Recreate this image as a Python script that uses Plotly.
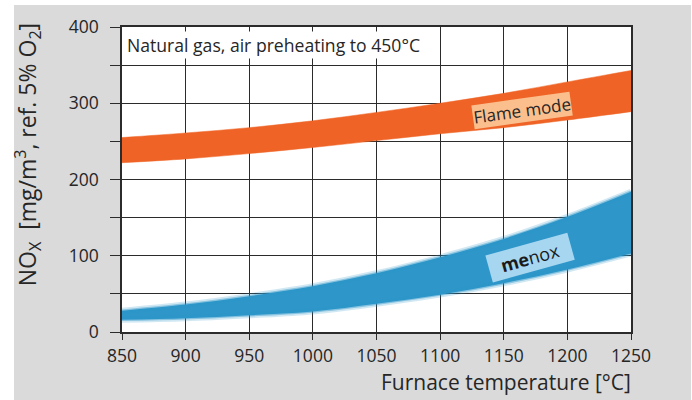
import plotly.graph_objects as go

# ---- data ----
temps = [850, 900, 950, 1000, 1050, 1100, 1150, 1200, 1250]
flame_low = [222, 227, 234, 242, 251, 260, 268, 278, 289]
flame_high = [255, 261, 268, 277, 288, 300, 313, 328, 343]
menox_low = [16, 18, 22, 27, 37, 49, 64, 82, 103]
menox_high = [28, 36, 47, 60, 77, 98, 122, 151, 184]

x_ticks = [850, 900, 950, 1000, 1050, 1100, 1150, 1200, 1250]
y_ticks = [0, 100, 200, 300, 400]

FONT = "Open Sans"
TXT = "#262626"
GRID = "#2b2b2b"
ORANGE = "#ef6426"
BLUE = "#2e96c9"

fig = go.Figure()

# Flame mode band
fig.add_trace(go.Scatter(x=temps, y=flame_low, mode="lines",
                         line=dict(color=ORANGE, width=0.5, shape="spline"),
                         showlegend=False, hoverinfo="skip"))
fig.add_trace(go.Scatter(x=temps, y=flame_high, mode="lines", fill="tonexty",
                         fillcolor=ORANGE,
                         line=dict(color=ORANGE, width=0.5, shape="spline"),
                         showlegend=False, hoverinfo="skip"))

# menox band (soft edges)
fig.add_trace(go.Scatter(x=temps, y=menox_low, mode="lines",
                         line=dict(color="rgba(46,150,201,0.22)", width=6, shape="spline"),
                         showlegend=False, hoverinfo="skip"))
fig.add_trace(go.Scatter(x=temps, y=menox_high, mode="lines", fill="tonexty",
                         fillcolor=BLUE,
                         line=dict(color="rgba(46,150,201,0.22)", width=6, shape="spline"),
                         showlegend=False, hoverinfo="skip"))
fig.add_trace(go.Scatter(x=temps, y=menox_low, mode="lines",
                         line=dict(color="rgba(46,150,201,0.45)", width=2.5, shape="spline"),
                         showlegend=False, hoverinfo="skip"))
fig.add_trace(go.Scatter(x=temps, y=menox_high, mode="lines",
                         line=dict(color="rgba(46,150,201,0.45)", width=2.5, shape="spline"),
                         showlegend=False, hoverinfo="skip"))

# white page border around the gray panel
for (x0, x1, y0, y1) in [(-0.3, -0.2122, -0.3, 1.2), (-0.3, 1.3, 1.072, 1.2),
                         (1.118, 1.3, -0.3, 1.2)]:
    fig.add_shape(type="rect", xref="paper", yref="paper", layer="above",
                  x0=x0, x1=x1, y0=y0, y1=y1,
                  fillcolor="white", line=dict(width=0))

annotations = [
    dict(text="Natural gas, air preheating to 450°C", xref="paper", yref="paper",
         x=0.006, y=0.942, xanchor="left", yanchor="middle", showarrow=False,
         font=dict(family=FONT, size=17.6, color=TXT), bgcolor="white", borderpad=1),
    dict(text="Flame mode", x=1164, y=291, showarrow=False, textangle=-8,
         font=dict(family=FONT, size=17, color=TXT), bgcolor="#fbbf8e", borderpad=0),
    dict(text="<b>me</b>nox", x=1171, y=98, showarrow=False, textangle=-15.5,
         font=dict(family=FONT, size=18, color="#1a1a1a"), bgcolor="#a7d6f1",
         width=82, height=25),
    dict(text="NO<sub>X</sub>  [mg/m<sup>3</sup>, ref. 5% O<sub>2</sub>]",
         xref="paper", yref="paper", x=-0.185, y=0.582, textangle=-90,
         showarrow=False, xanchor="center", yanchor="middle",
         font=dict(family=FONT, size=23, color=TXT)),
    dict(text="Furnace temperature [°C]", xref="paper", yref="paper",
         x=1.004, y=-0.165, xanchor="right", yanchor="middle", showarrow=False,
         font=dict(family=FONT, size=21, color=TXT)),
]

fig.update_layout(
    width=692, height=400,
    margin=dict(l=122, r=61, t=27, b=68),
    paper_bgcolor="#dadada", plot_bgcolor="white",
    annotations=annotations,
    showlegend=False,
    font=dict(family=FONT, color=TXT),
)

fig.update_xaxes(
    range=[850, 1250], tickvals=x_ticks, ticktext=[str(v) for v in x_ticks],
    ticks="outside", ticklen=6, tickcolor=GRID, tickwidth=1.4,
    showgrid=True, gridcolor=GRID, gridwidth=1.3,
    showline=True, linecolor=GRID, linewidth=1.5, mirror=True,
    zeroline=False, tickfont=dict(family=FONT, size=17.5, color=TXT),
    ticklabelstandoff=1,
)
fig.update_yaxes(
    range=[0, 400], tickvals=y_ticks, ticktext=[str(v) for v in y_ticks],
    ticks="outside", ticklen=10, tickcolor=GRID, tickwidth=1.4,
    showgrid=True, gridcolor=GRID, gridwidth=1.3,
    minor=dict(dtick=50, tick0=0, ticks="outside", ticklen=10, tickcolor=GRID,
               tickwidth=1.4, showgrid=True, gridcolor=GRID, gridwidth=1.3),
    showline=True, linecolor=GRID, linewidth=1.5, mirror=True,
    zeroline=False, tickfont=dict(family=FONT, size=17.5, color=TXT),
    ticklabelstandoff=8,
)

fig.write_html("out.html", config={"displayModeBar": False},
               post_script="document.body.style.margin='0';document.body.style.overflow='hidden';")
